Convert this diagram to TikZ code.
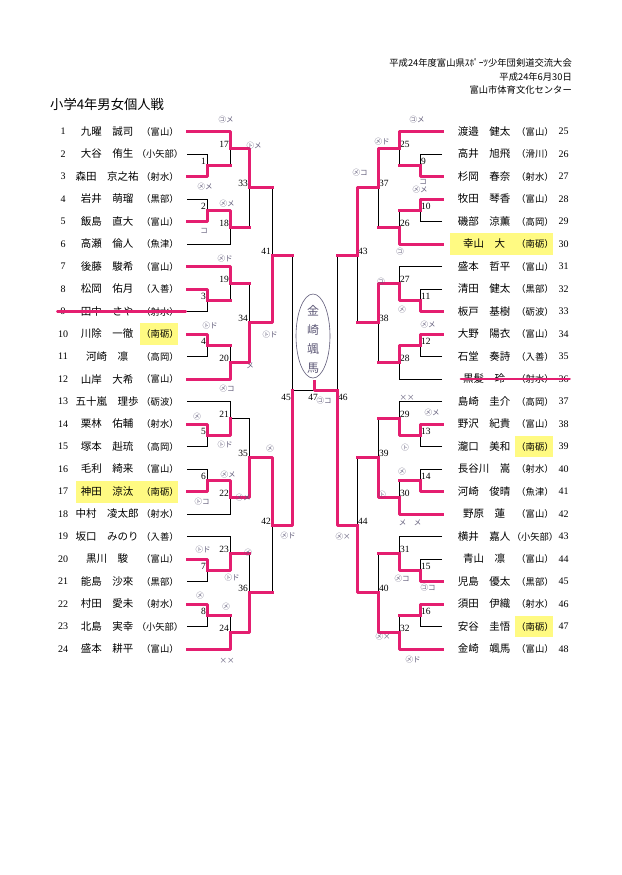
\documentclass[tikz,border=0pt]{standalone}
\usepackage{fontspec}
\setmainfont{Liberation Serif}
\newfontfamily\jp{Noto Sans CJK JP}
\usetikzlibrary{shapes.geometric}
\definecolor{marker}{RGB}{228,30,112}
\definecolor{hilite}{RGB}{255,250,130}
\definecolor{pencil}{RGB}{95,90,120}
\tikzset{
  num/.style={font=\fontsize{10}{10}\selectfont, inner sep=0pt},
  pname/.style={font=\jp\fontsize{10.5}{10.5}\selectfont, inner sep=0pt},
  team/.style={font=\jp\fontsize{9.3}{9.3}\selectfont, inner sep=0pt},
  hdr/.style={font=\jp\fontsize{9.3}{9.3}\selectfont, inner sep=0pt, anchor=east},
  mlabel/.style={font=\fontsize{9.5}{9.5}\selectfont, inner sep=1pt},
  bline/.style={draw=black, line width=0.7pt},
  win/.style={draw=marker, line width=3pt, line join=round, line cap=rect},
  strike/.style={draw=marker, line width=2.4pt, line cap=round},
  note/.style={font=\jp\fontsize{7.5}{7.5}\selectfont, text=pencil, inner sep=0pt},
}
\begin{document}
\begin{tikzpicture}[x=1pt, y=-1pt]
    \useasboundingbox (0,0) rectangle (621,875);
    \fill[white] (0,0) rectangle (621,875);

    \node[hdr] (h1) at (572,63) {平成24年度富山県ｽﾎﾟｰﾂ少年団剣道交流大会};
    \node[hdr] (h2) at (572,77) {平成24年6月30日};
    \node[hdr] (h3) at (572,90) {富山市体育文化センター};
    \node[font=\jp\fontsize{13.3}{13.3}\selectfont, inner sep=0pt, anchor=west] (title) at (50,104) {小学4年男女個人戦};

    \fill[hilite] (140,323) rectangle (178,345);
    \fill[hilite] (76,481) rectangle (178,503);
    \fill[hilite] (450,233) rectangle (553,255);
    \fill[hilite] (515,436) rectangle (553,457);
    \fill[hilite] (515,616) rectangle (553,637);

    \foreach \i/\nm/\tm in {1/九曜　誠司/富山, 2/大谷　侑生/小矢部, 3/森田　京之祐/射水, 4/岩井　萌瑠/黒部,
        5/飯島　直大/富山, 6/高瀬　倫人/魚津, 7/後藤　駿希/富山, 8/松岡　佑月/入善, 9/田中　さや/射水,
        10/川除　一徹/南砺, 11/河崎　凛/高岡, 12/山岸　大希/富山, 13/五十嵐　理歩/砺波, 14/栗林　佑輔/射水,
        15/塚本　赳琉/高岡, 16/毛利　綺来/富山, 17/神田　涼汰/南砺, 18/中村　凌太郎/射水, 19/坂口　みのり/入善,
        20/黒川　駿/富山, 21/能島　沙來/黒部, 22/村田　愛未/射水, 23/北島　実幸/小矢部, 24/盛本　耕平/富山}{
        \node[num] (k\i) at (63,{131.5+22.5*(\i-1)}) {\i};
        \node[pname] (n\i) at (107,{131.5+22.5*(\i-1)}) {\nm};
        \node[team] (t\i) at (160,{131.5+22.5*(\i-1)}) {（\tm）};
        \coordinate (p\i) at (187,{131.5+22.5*(\i-1)});
    }
    \foreach \i/\nm/\tm in {25/渡邉　健太/富山, 26/高井　旭飛/滑川, 27/杉岡　春奈/射水, 28/牧田　琴香/富山,
        29/磯部　涼薫/高岡, 30/幸山　大/南砺, 31/盛本　哲平/富山, 32/清田　健太/黒部, 33/板戸　基樹/砺波,
        34/大野　陽衣/富山, 35/石堂　奏詩/入善, 36/黒髪　玲/射水, 37/島崎　圭介/高岡, 38/野沢　紀貴/富山,
        39/瀧口　美和/南砺, 40/長谷川　嵩/射水, 41/河崎　俊晴/魚津, 42/野原　蓮/富山, 43/横井　嘉人/小矢部,
        44/青山　凛/富山, 45/児島　優太/黒部, 46/須田　伊織/射水, 47/安谷　圭悟/南砺, 48/金崎　颯馬/富山}{
        \node[num] (k\i) at (563.5,{131.5+22.5*(\i-25)}) {\i};
        \node[pname] (n\i) at (484,{131.5+22.5*(\i-25)}) {\nm};
        \node[team] (t\i) at (535,{131.5+22.5*(\i-25)}) {（\tm）};
        \coordinate (p\i) at (442,{131.5+22.5*(\i-25)});
    }

    \foreach \m/\x/\y in {1/207/165.25, 2/207/210.25, 3/207/300.25, 4/207/345.25, 5/207/435.25, 6/207/480.25,
        7/207/570.25, 8/207/615.25, 17/230/148.375, 18/230/227.125, 19/230/283.375, 20/230/362.125,
        21/230/418.375, 22/230/497.125, 23/230/553.375, 24/230/632.125, 33/249/187.75, 34/249/322.75,
        35/249/457.75, 36/249/592.75, 41/272/255.25, 42/272/525.25}{
        \coordinate (m\m) at (\x,\y);
        \node[mlabel, anchor=east] (l\m) at (\x,\y-4) {\m};
    }
    \foreach \m/\x/\y in {9/420/165.25, 10/420/210.25, 11/420/300.25, 12/420/345.25, 13/420/435.25, 14/420/480.25,
        15/420/570.25, 16/420/615.25, 25/399/148.375, 26/399/227.125, 27/399/283.375, 28/399/362.125,
        29/399/418.375, 30/399/497.125, 31/399/553.375, 32/399/632.125, 37/378/187.75, 38/378/322.75,
        39/378/457.75, 40/378/592.75, 43/357/255.25, 44/357/525.25}{
        \coordinate (m\m) at (\x,\y);
        \node[mlabel, anchor=west] (l\m) at (\x,\y-4) {\m};
    }
    \coordinate (m45) at (292,390.25);
    \coordinate (m46) at (337,390.25);
    \coordinate (w47) at (314,381);
    \node[mlabel, anchor=east] (l45) at (292,397) {45};
    \node[mlabel, anchor=west] (l46) at (337,397) {46};
    \node[mlabel] (l47) at (313,397) {47};

    \foreach \a/\b/\c/\f/\s in {1/2/3/1/17, 7/8/9/3/19, 13/14/15/5/21, 19/20/21/7/23,
        25/26/27/9/25, 31/32/33/11/27, 37/38/39/13/29, 43/44/45/15/31}{
        \draw[bline] (p\b) -| (m\f);
        \draw[bline] (p\c) -| (m\f);
        \draw[bline] (p\a) -| (m\s);
        \draw[bline] (m\f) -| (m\s);
    }
    \foreach \a/\b/\c/\f/\s in {4/5/6/2/18, 10/11/12/4/20, 16/17/18/6/22, 22/23/24/8/24,
        28/29/30/10/26, 34/35/36/12/28, 40/41/42/14/30, 46/47/48/16/32}{
        \draw[bline] (p\a) -| (m\f);
        \draw[bline] (p\b) -| (m\f);
        \draw[bline] (m\f) -| (m\s);
        \draw[bline] (p\c) -| (m\s);
    }
    \foreach \u/\v in {17/33, 18/33, 19/34, 20/34, 21/35, 22/35, 23/36, 24/36, 33/41, 34/41, 35/42, 36/42,
        41/45, 42/45, 25/37, 26/37, 27/38, 28/38, 29/39, 30/39, 31/40, 32/40, 37/43, 38/43, 39/44, 40/44,
        43/46, 44/46}
        \draw[bline] (m\u) -| (m\v);
    \draw[bline] (m45) -- (m46);

    \foreach \u/\v in {p3/m1, p1/m17, p5/m2, m2/m18, m17/m33, p8/m3, p7/m19, p10/m4, p12/m20, m20/m34,
        m34/m41, p14/m5, m5/m21, p17/m6, m6/m22, m22/m35, p20/m7, m7/m23, p22/m8, p24/m24, m24/m36,
        m35/m42, m42/m45, p27/m9, p25/m25, p28/m10, p30/m26, m25/m37, p33/m11, m11/m27, p34/m12,
        m12/m28, m27/m38, m37/m43, p38/m13, m13/m29, p41/m14, p42/m30, m30/m39, p45/m15, m15/m31,
        p46/m16, p48/m32, m32/m40, m40/m44, m44/m46}
        \draw[win] (\u) -| (\v);
    \foreach \u/\v in {m1/m17, m18/m33, m33/m41, m3/m19, m4/m20, m19/m34, m41/m45, m8/m24, m23/m36,
        m36/m42, m9/m25, m10/m26, m26/m37, m28/m38, m38/m43, m43/m46, m29/m39, m14/m30, m39/m44,
        m31/m40, m16/m32}
        \draw[win] (\u) -- (\u -| \v);
    \draw[win] (m46) -| (w47);

    \draw[strike] ([xshift=-3pt]k9.west) -- ([xshift=7pt]t9.east);
    \draw[strike] ([xshift=-2pt]n36.west) -- ([xshift=1pt]k36.east);

    \foreach \x/\y/\t [count=\j] in {226/120/㋙メ, 254/146/㋣メ, 205/187/㋱メ, 227/204/㋱メ, 204/231/コ,
        225/259/㋱ド, 210/326/㋣ド, 270/335/㋣ド, 250/366/メ, 227/389/㋱コ, 197/417/㋱, 225/445/㋣ド,
        228/475/㋱メ, 270/449/㋱, 202/502/㋣コ, 243/498/㋱メ, 288/536/㋱ド, 203/550/㋣ド, 232/578/㋣ド,
        248/553/㋱, 200/596/㋱, 226/607/㋱, 227/661/××, 417/120/㋙メ, 382/142/㋱ド, 360/173/㋱コ,
        423/182/コ, 420/190/㋱メ, 400/252/㋙, 381/282/㋙, 402/310/㋱, 428/325/㋱メ, 407/398/××,
        432/413/㋱メ, 405/448/㋣, 402/472/㋱, 382/495/㋣, 410/523/メ　メ, 343/537/㋱×, 402/579/㋱コ,
        428/588/㋙コ, 383/637/㋱×, 413/660/㋱ド, 324/401/㋙コ}
        \node[note] (a\j) at (\x,\y) {\t};

    \node[ellipse, draw=pencil, line width=0.6pt, minimum width=34pt, minimum height=84pt, inner sep=0pt] (champ) at (313,336) {};
    \node[font=\jp\fontsize{12}{19}\selectfont, text=pencil, align=center, inner sep=0pt] (champname) at (313,339) {金\\崎\\颯\\馬};
\end{tikzpicture}
\end{document}
